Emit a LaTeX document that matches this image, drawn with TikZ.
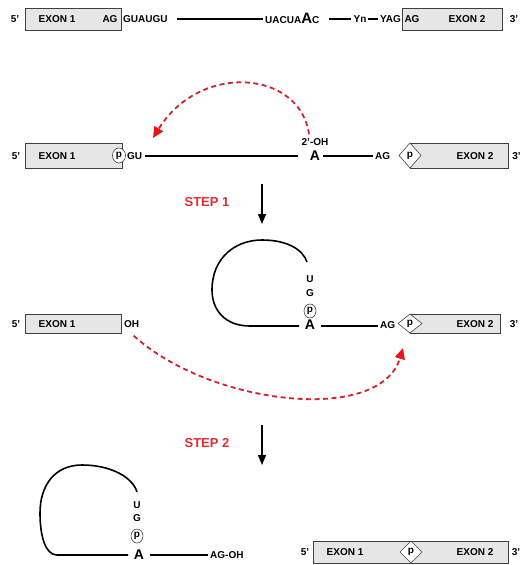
\documentclass[tikz,border=0pt]{standalone}
\usepackage{fontspec}
\setmainfont{Liberation Sans}
\usetikzlibrary{arrows.meta}
\definecolor{boxgray}{RGB}{230,230,230}
\definecolor{dashred}{RGB}{205,35,45}
\definecolor{tipred}{RGB}{235,20,25}
\definecolor{stepred}{RGB}{225,45,50}
\tikzset{
  lbl/.style={inner sep=0pt, font=\fontsize{10}{12}\selectfont\bfseries},
  biga/.style={inner sep=0pt, font=\fontsize{14}{14}\selectfont\bfseries},
  steplbl/.style={inner sep=0pt, text=stepred, font=\fontsize{13}{14}\selectfont\bfseries},
  exonbox/.style={draw=black!75, line width=0.8pt, fill=boxgray},
  pmark/.style={draw=black!75, line width=0.6pt, fill=white},
  rna/.style={line width=1.6pt, black},
  thin rna/.style={line width=1.3pt, black},
  redarrow/.style={draw=dashred, line width=1.8pt, dash pattern=on 5pt off 3.5pt,
     -{Triangle[length=11pt,width=10pt,color=tipred]}},
  steparrow/.style={line width=1.3pt, -{Triangle[length=10pt,width=8pt]}}
}
\begin{document}
\begin{tikzpicture}[x=1pt,y=-1pt]
\useasboundingbox (0,0) rectangle (522,565);

% ---------------- Row 1 ----------------
\node[lbl] (r1five) at (15,19) {5'};
\draw[exonbox] (25,8) rectangle (121,30);
\node[lbl] (r1ex1) at (57,19) {EXON 1};
\node[lbl] (r1ag) at (110,19) {AG};
\node[lbl, anchor=west] (r1gu) at (123,19) {GUAUGU};
\node[lbl, anchor=base west] (r1br) at (265,23) {UACUA{\fontsize{15}{15}\selectfont A}C};
\node[lbl] (r1yn) at (360,19) {Yn};
\node[lbl, anchor=east] (r1yag) at (401,19) {YAG};
\draw[exonbox] (402,8) rectangle (502,30);
\node[lbl] (r1ag2) at (412,19) {AG};
\node[lbl] (r1ex2) at (467,19) {EXON 2};
\node[lbl] (r1three) at (514,19) {3'};
\coordinate (l1a) at (177,19);
\coordinate (l1b) at (263,19);
\coordinate (l2a) at (329,19);
\coordinate (l2b) at (351,19);
\coordinate (l3a) at (368,19);
\coordinate (l3b) at (378,19);
\draw[thin rna] (l1a) -- (l1b);
\draw[thin rna] (l2a) -- (l2b);
\draw[thin rna] (l3a) -- (l3b);

% ---------------- Row 2 ----------------
\node[lbl] (r2five) at (16,156) {5'};
\draw[exonbox] (25,143) rectangle (122,168);
\node[lbl] (r2ex1) at (57,156) {EXON 1};
\draw[pmark] (119,155.5) ellipse (6.5pt and 7.5pt);
\node[lbl] (r2p1) at (119,155.5) {p};
\node[lbl, anchor=west] (r2gu) at (127,156) {GU};
\node[biga] (r2A) at (315,156) {A};
\node[lbl] (r2oh) at (315,142) {2'-OH};
\node[lbl, anchor=west] (r2ag) at (375,156) {AG};
\draw[exonbox] (410,143) rectangle (508,168);
\draw[pmark] (399,155.5) -- (410,143) -- (421,155.5) -- (410,168) -- cycle;
\node[lbl] (r2p2) at (410,155.5) {p};
\node[lbl] (r2ex2) at (475,156) {EXON 2};
\node[lbl] (r2three) at (516.5,156) {3'};
\draw[rna] (145,156) -- (298,156);
\draw[rna] (323,156) -- (373,156);

% dashed arrow 1
\draw[redarrow] (r2oh.north) ++(-6,-4) .. controls (300,70) and (200,62) .. (153,138);

% STEP 1
\node[steplbl] (step1) at (207,202) {STEP 1};
\coordinate (s1a) at (262,184);
\coordinate (s1b) at (262,224);
\draw[steparrow] (s1a) -- (s1b);

% ---------------- Row 3 ----------------
\node[lbl] (r3five) at (16,324) {5'};
\draw[exonbox] (25,314) rectangle (121,333);
\node[lbl] (r3ex1) at (57,324) {EXON 1};
\node[lbl, anchor=west] (r3oh) at (124,324) {OH};
\node[lbl] (r3U) at (310,279) {U};
\node[lbl] (r3G) at (310,293) {G};
\draw[pmark] (310,311) ellipse (6pt and 7pt);
\node[lbl] (r3p) at (310,311) {p};
\node[biga] (r3A) at (310,325) {A};
\node[lbl, anchor=west] (r3ag) at (380,325) {AG};
\draw[exonbox] (410,314) rectangle (500,333);
\draw[pmark] (398,323.5) -- (410,314) -- (422,323.5) -- (410,333) -- cycle;
\node[lbl] (r3p2) at (410,323.5) {p};
\node[lbl] (r3ex2) at (475,324) {EXON 2};
\node[lbl] (r3three) at (514,324) {3'};
\draw[rna] (299,326) -- (250,326) .. controls (225,326) and (212,310) .. (212,290)
   .. controls (212,258) and (235,240) .. (262,240) .. controls (288,240) and (303,250) .. (307,262);
\draw[rna] (321,326) -- (378,326);

% dashed arrow 2
\draw[redarrow] (r3oh.south) ++(2,8) .. controls (210,405) and (380,425) .. (403,348);

% STEP 2
\node[steplbl] (step2) at (207,443) {STEP 2};
\coordinate (s2a) at (262,425);
\coordinate (s2b) at (262,465);
\draw[steparrow] (s2a) -- (s2b);

% ---------------- Row 5 ----------------
\node[lbl] (r5U) at (137,505) {U};
\node[lbl] (r5G) at (137,518) {G};
\draw[pmark] (137,536) ellipse (6pt and 7pt);
\node[lbl] (r5p) at (137,536) {p};
\node[biga] (r5A) at (139,555) {A};
\node[lbl, anchor=west] (r5agoh) at (210,555) {AG-OH};
\draw[rna] (128,555) -- (57,555) .. controls (45,555) and (40,535) .. (40,513)
   .. controls (40,485) and (55,465) .. (82,465) .. controls (112,465) and (133,478) .. (137,492);
\draw[rna] (150,555) -- (208,555);

\node[lbl] (r5five) at (305,552) {5'};
\draw[exonbox] (313,541) rectangle (508,563);
\draw[pmark] (400,552) -- (411,541) -- (422,552) -- (411,563) -- cycle;
\node[lbl] (r5p2) at (411,552) {p};
\node[lbl] (r5ex1) at (345,552) {EXON 1};
\node[lbl] (r5ex2) at (475,552) {EXON 2};
\node[lbl] (r5three) at (516,552) {3'};
\end{tikzpicture}
\end{document}
